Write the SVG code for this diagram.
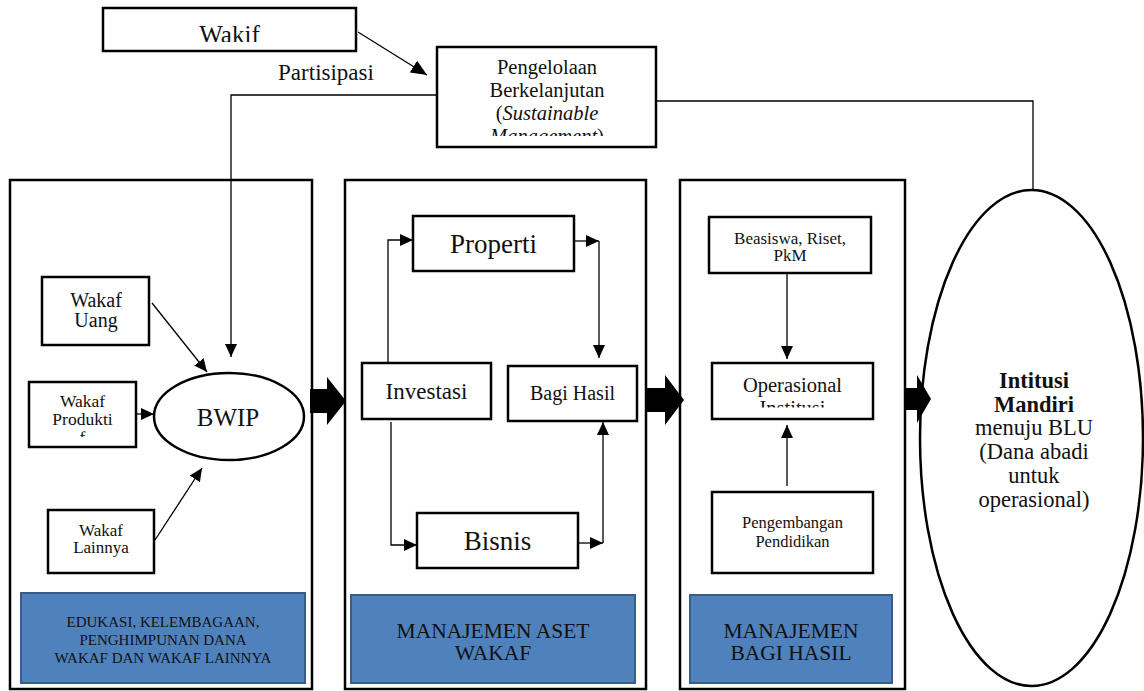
<svg xmlns="http://www.w3.org/2000/svg" width="1144" height="691" viewBox="0 0 1144 691">
<style>
.box{fill:#fff;stroke:#000;stroke-width:2.5}
.panel{fill:#fff;stroke:#000;stroke-width:2.5}
.blue{fill:#4F81BD;stroke:#385D8A;stroke-width:2}
.ln{fill:none;stroke:#000;stroke-width:1.3}
.t{font-family:"Liberation Serif","Times New Roman",serif;fill:#111;text-anchor:middle}
.blk{fill:#000}
</style>
<defs>
<marker id="ah" markerUnits="userSpaceOnUse" markerWidth="14" markerHeight="12" refX="13" refY="6" orient="auto">
<path d="M0,0 L13,6 L0,12 z" fill="#000"/>
</marker>
<marker id="ahb" markerUnits="userSpaceOnUse" markerWidth="17" markerHeight="14" refX="16" refY="7" orient="auto">
<path d="M0,0 L16,7 L0,14 z" fill="#000"/>
</marker>
<clipPath id="cWakif"><rect x="103" y="8" width="253" height="34"/></clipPath>
<clipPath id="cPeng"><rect x="437" y="47" width="219" height="89"/></clipPath>
<clipPath id="cProd"><rect x="29" y="382" width="107" height="55"/></clipPath>
<clipPath id="cOps"><rect x="712" y="363" width="161" height="44.5"/></clipPath>
</defs>

<g id="panel-left"><rect class="panel" x="10" y="180" width="302" height="509"/></g>
<g id="panel-mid"><rect class="panel" x="345" y="180" width="301" height="509"/></g>
<g id="panel-right"><rect class="panel" x="680" y="180" width="225" height="509"/></g>

<g id="wakif">
<rect class="box" x="103" y="8" width="253" height="43"/>
<text class="t" x="229.5" y="42.5" font-size="25" clip-path="url(#cWakif)">Wakif</text>
</g>
<g id="partisipasi-label"><text class="t" x="326" y="80" font-size="23">Partisipasi</text></g>
<g id="pengelolaan">
<rect class="box" x="437" y="47" width="219" height="100"/>
<g clip-path="url(#cPeng)" font-size="20.5">
<text class="t" x="547" y="74">Pengelolaan</text>
<text class="t" x="547" y="97">Berkelanjutan</text>
<text class="t" x="547" y="120">(<tspan font-style="italic">Sustainable</tspan></text>
<text class="t" x="547" y="143"><tspan font-style="italic">Management</tspan>)</text>
</g>
</g>

<g id="wakaf-uang">
<rect class="box" x="42" y="277" width="107" height="68"/>
<text class="t" x="96" y="307" font-size="20">Wakaf</text>
<text class="t" x="96" y="327" font-size="20">Uang</text>
</g>
<g id="wakaf-produktif">
<rect class="box" x="29" y="382" width="107" height="65"/>
<g clip-path="url(#cProd)" font-size="17.5">
<text class="t" x="82.5" y="407">Wakaf</text>
<text class="t" x="82.5" y="425">Produkti</text>
<text class="t" x="82.5" y="443">f</text>
</g>
</g>
<g id="wakaf-lainnya">
<rect class="box" x="48" y="510" width="106" height="63"/>
<text class="t" x="101" y="536" font-size="17">Wakaf</text>
<text class="t" x="101" y="553" font-size="17">Lainnya</text>
</g>
<g id="bwip">
<ellipse class="box" cx="229" cy="416.5" rx="75" ry="43.5"/>
<text class="t" x="228" y="426" font-size="25">BWIP</text>
</g>

<g id="properti">
<rect class="box" x="413" y="216" width="161" height="55"/>
<text class="t" x="493.5" y="253" font-size="27">Properti</text>
</g>
<g id="investasi">
<rect class="box" x="362" y="363" width="129" height="56"/>
<text class="t" x="426.5" y="399" font-size="23">Investasi</text>
</g>
<g id="bagi-hasil">
<rect class="box" x="508" y="366" width="129" height="55"/>
<text class="t" x="572.5" y="400" font-size="20">Bagi Hasil</text>
</g>
<g id="bisnis">
<rect class="box" x="417" y="513" width="161" height="55"/>
<text class="t" x="497.5" y="550" font-size="27">Bisnis</text>
</g>

<g id="beasiswa">
<rect class="box" x="709" y="217" width="162" height="56"/>
<text class="t" x="790" y="244" font-size="17">Beasiswa, Riset,</text>
<text class="t" x="790" y="261" font-size="17">PkM</text>
</g>
<g id="operasional">
<rect class="box" x="712" y="363" width="161" height="56"/>
<g clip-path="url(#cOps)" font-size="20.5">
<text class="t" x="792.5" y="392">Operasional</text>
<text class="t" x="792.5" y="415">Institusi</text>
</g>
</g>
<g id="pengembangan">
<rect class="box" x="712" y="492" width="161" height="81"/>
<text class="t" x="792.5" y="528" font-size="16.5">Pengembangan</text>
<text class="t" x="792.5" y="547" font-size="16.5">Pendidikan</text>
</g>

<g id="label-edukasi">
<rect class="blue" x="21" y="593" width="284" height="90"/>
<text class="t" x="163" y="627" font-size="15">EDUKASI, KELEMBAGAAN,</text>
<text class="t" x="163" y="645" font-size="15">PENGHIMPUNAN DANA</text>
<text class="t" x="163" y="663" font-size="15">WAKAF DAN WAKAF LAINNYA</text>
</g>
<g id="label-aset">
<rect class="blue" x="351" y="595" width="284" height="88"/>
<text class="t" x="493" y="638" font-size="21.5">MANAJEMEN ASET</text>
<text class="t" x="493" y="660" font-size="21.5">WAKAF</text>
</g>
<g id="label-bagihasil">
<rect class="blue" x="690" y="595" width="202" height="88"/>
<text class="t" x="791" y="638" font-size="21.5">MANAJEMEN</text>
<text class="t" x="791" y="660" font-size="21.5">BAGI HASIL</text>
</g>

<g id="intitusi-mandiri">
<ellipse class="box" cx="1031.5" cy="438" rx="111.5" ry="248"/>
<text class="t" x="1034" y="388" font-size="22.5" font-weight="bold">Intitusi</text>
<text class="t" x="1034" y="412" font-size="22.5" font-weight="bold">Mandiri</text>
<text class="t" x="1034" y="435" font-size="22.5">menuju BLU</text>
<text class="t" x="1034" y="459" font-size="22.5">(Dana abadi</text>
<text class="t" x="1034" y="483" font-size="22.5">untuk</text>
<text class="t" x="1034" y="507" font-size="22.5">operasional)</text>
</g>

<g id="connectors">
<path class="ln" d="M358,32 L427,75" marker-end="url(#ahb)"/>
<path class="ln" d="M437,95 H231 V357" marker-end="url(#ah)"/>
<path class="ln" d="M656,101 H1033 V190"/>
<path class="ln" d="M152,303 L207,372" marker-end="url(#ah)"/>
<path class="ln" d="M136,414 L154,414" marker-end="url(#ah)"/>
<path class="ln" d="M155,540 L202,468" marker-end="url(#ah)"/>
<path class="ln" d="M388,363 V240 H413" marker-end="url(#ah)"/>
<path class="ln" d="M391,422 V545 H417" marker-end="url(#ah)"/>
<path class="ln" d="M575,241 H599" marker-end="url(#ah)"/>
<path class="ln" d="M599,241 V358" marker-end="url(#ah)"/>
<path class="ln" d="M578,543 H603" marker-end="url(#ah)"/>
<path class="ln" d="M603,543 V422" marker-end="url(#ah)"/>
<path class="ln" d="M787,273 V359" marker-end="url(#ah)"/>
<path class="ln" d="M787,486 V425" marker-end="url(#ah)"/>
<polygon class="blk" points="310,389 327,389 327,377 346,401 327,425 327,413 310,413"/>
<polygon class="blk" points="647,388 665,388 665,375 684,400 665,425 665,412 647,412"/>
<polygon class="blk" points="905,388 917,388 917,375 931,399 917,423 917,410 905,410"/>
</g>
</svg>
